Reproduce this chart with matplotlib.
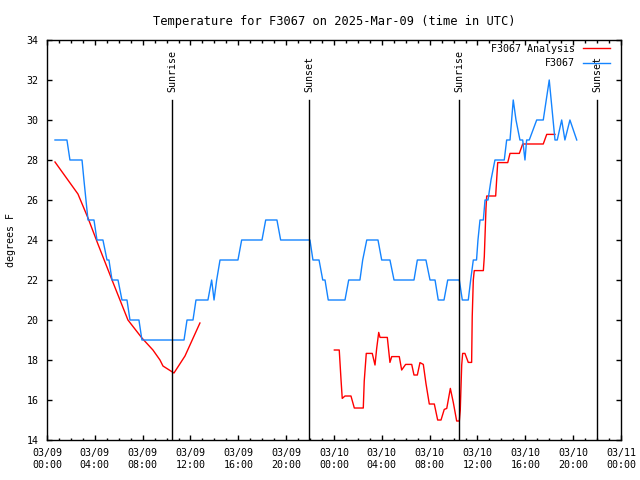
import matplotlib
matplotlib.use('Agg')
import matplotlib.pyplot as plt
import matplotlib.dates as mdates
import pandas as pd

t0 = pd.Timestamp('2025-03-09 00:00')

# hours after 03/09 00:00 UTC, degrees F
obs_hours = [0.67, 1.67, 1.92, 2.93, 3.09, 3.26, 3.43, 3.93, 4.18, 4.68, 5.02, 5.18,
             5.44, 5.94, 6.27, 6.69, 6.94, 7.69, 7.94, 11.46, 11.71, 12.21, 12.46,
             13.46, 13.77, 13.97, 14.19, 14.47, 15.97, 16.28, 17.98, 18.29, 19.23,
             19.54, 21.99, 22.24, 22.75, 23.06, 23.25, 23.52, 24.92, 25.23, 26.17,
             26.40, 26.74, 27.68, 27.99, 28.68, 29.02, 30.69, 30.97, 31.69, 32.03,
             32.45, 32.72, 33.20, 33.51, 34.48, 34.73, 35.23, 35.43, 35.65, 35.92,
             36.04, 36.21, 36.49, 36.63, 36.88, 37.13, 37.46, 38.24, 38.44, 38.72,
             38.99, 39.22, 39.55, 39.78, 39.97, 40.11, 40.33, 40.95, 41.50, 42.00,
             42.48, 42.67, 43.04, 43.31, 43.73, 44.30]
obs_temp = [29, 29, 28, 28, 27, 26, 25, 25, 24, 24, 23, 23,
            22, 22, 21, 21, 20, 20, 19, 19, 20, 20, 21,
            21, 22, 21, 22, 23, 23, 24, 24, 25, 25,
            24, 24, 23, 23, 22, 22, 21, 21, 22, 22,
            23, 24, 24, 23, 23, 22, 22, 23, 23, 22,
            22, 21, 21, 22, 22, 21, 21, 22, 23, 23,
            24, 25, 25, 26, 26, 27, 28, 28, 29, 29,
            31, 30, 29, 29, 28, 29, 29, 30, 30, 32,
            29, 29, 30, 29, 30, 29]

ana1_hours = [0.67, 2.59, 3.43, 4.26, 5.44, 6.77, 7.94, 8.86, 9.45, 9.70, 10.62, 11.54, 12.79]
ana1_temp = [27.9, 26.3, 25.1, 23.8, 22.0, 20.0, 19.1, 18.5, 18.0, 17.7, 17.35, 18.2, 19.85]

ana2_hours = [24.03, 24.44, 24.59, 24.69, 24.92, 25.42, 25.70, 26.45, 26.53, 26.70, 27.20,
              27.43, 27.57, 27.74, 27.85, 28.46, 28.57, 28.68, 28.83, 29.46, 29.66, 29.99,
              30.50, 30.69, 30.97, 31.19, 31.47, 31.69, 31.97, 32.39, 32.67, 32.95, 33.22,
              33.43, 33.73, 33.98, 34.26, 34.48, 34.56, 34.68, 34.76, 34.95, 35.23, 35.51,
              35.56, 35.65, 35.73, 36.49, 36.57, 36.71, 36.77, 37.52, 37.69, 38.53, 38.72,
              39.50, 39.78, 41.50, 41.79, 42.48]
ana2_temp = [18.5, 18.5, 17.0, 16.08, 16.2, 16.2, 15.6, 15.6, 16.95, 18.33, 18.33,
             17.75, 18.58, 19.38, 19.13, 19.13, 18.5, 17.88, 18.17, 18.17, 17.5, 17.78,
             17.78, 17.25, 17.25, 17.87, 17.78, 16.83, 15.8, 15.8, 15.0, 15.0, 15.53,
             15.58, 16.58, 15.87, 14.95, 14.95, 15.5, 17.75, 18.33, 18.33, 17.88, 17.88,
             20.17, 22.0, 22.47, 22.47, 23.17, 25.58, 26.2, 26.2, 27.87, 27.87, 28.33,
             28.33, 28.8, 28.8, 29.28, 29.28]

sun_hours = [10.45, 21.91, 34.45, 45.99]
sun_labels = ['Sunrise', 'Sunset', 'Sunrise', 'Sunset']


def to_time(hours):
    return t0 + pd.to_timedelta(hours, unit='h')


plt.rcParams['font.family'] = 'DejaVu Sans Mono'
plt.rcParams['font.size'] = 7.2

fig = plt.figure(figsize=(6.4, 4.8), dpi=100)
ax = fig.add_axes([0.0734, 0.0833, 0.8969, 0.8334])

ax.plot(to_time(ana1_hours), ana1_temp, color='#ff0000', lw=1, label='F3067 Analysis')
ax.plot(to_time(ana2_hours), ana2_temp, color='#ff0000', lw=1)
ax.plot(to_time(obs_hours), obs_temp, color='#1484ff', lw=1, label='F3067')

# sunrise / sunset markers
for h, lab in zip(sun_hours, sun_labels):
    t = to_time([h])[0]
    ax.plot([t, t], [14, 31], color='black', lw=1)
    ax.text(t, 31.4, lab, rotation=90, ha='center', va='bottom')

ax.set_xlim(t0, t0 + pd.Timedelta(hours=48))
ax.set_ylim(14, 34)
ax.set_yticks(range(14, 35, 2))
ax.xaxis.set_major_locator(mdates.HourLocator(byhour=range(0, 24, 4)))
ax.xaxis.set_minor_locator(mdates.HourLocator())
ax.xaxis.set_major_formatter(mdates.DateFormatter('%m/%d\n%H:%M'))
ax.tick_params(which='both', direction='in', top=True, right=True, width=1)
ax.tick_params(which='major', length=3.3, pad=6)
ax.tick_params(which='minor', length=1.8)
for s in ax.spines.values():
    s.set_linewidth(1)

ax.set_ylabel('degrees F', labelpad=8)
ax.set_title('Temperature for F3067 on 2025-Mar-09 (time in UTC)', pad=11)
ax.legend(loc='upper right', bbox_to_anchor=(0.981, 0.991), frameon=False,
          markerfirst=False, handlelength=2.7, borderaxespad=0, borderpad=0,
          labelspacing=0.45, handletextpad=0.8)

fig.savefig('out.png', dpi=100)
